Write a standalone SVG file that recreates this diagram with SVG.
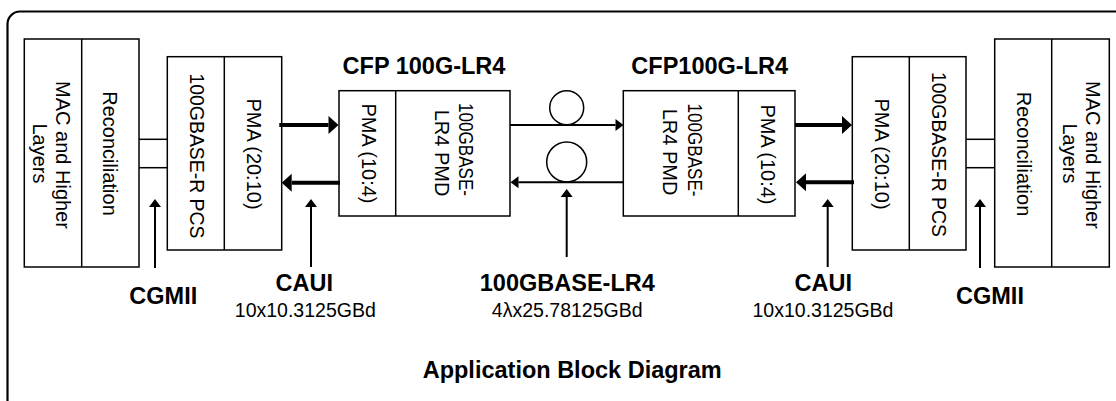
<svg xmlns="http://www.w3.org/2000/svg" width="1116" height="401" viewBox="0 0 1116 401">
<style>
.box{fill:#fff;stroke:#000;stroke-width:1.5}
.div{stroke:#000;stroke-width:1.5;fill:none}
.frame{fill:none;stroke:#000;stroke-width:2.2}
.rt{font-family:"Liberation Sans",Arial,sans-serif;font-size:20px;fill:#000;text-anchor:middle}
.lb{font-family:"Liberation Sans",Arial,sans-serif;font-size:23.5px;font-weight:bold;fill:#000;text-anchor:middle}
.sm{font-family:"Liberation Sans",Arial,sans-serif;font-size:19.5px;fill:#000;text-anchor:middle}
.thick{stroke:#000;stroke-width:4;fill:none;marker-end:url(#ahThick)}
.thin{stroke:#000;stroke-width:2;fill:none;marker-end:url(#ahThin)}
.up{stroke:#000;stroke-width:2;fill:none;marker-end:url(#ahUp)}
.link{stroke:#000;stroke-width:1.5;fill:none}
.fiber{fill:none;stroke:#000;stroke-width:1.5}
</style>
<defs>
<marker id="ahThick" markerUnits="userSpaceOnUse" markerWidth="10" markerHeight="18" refX="0" refY="9" orient="auto" overflow="visible"><path d="M0,0 L10,9 L0,18 Z" fill="#000"/></marker>
<marker id="ahThin" markerUnits="userSpaceOnUse" markerWidth="8" markerHeight="12" refX="0" refY="6" orient="auto" overflow="visible"><path d="M0,0 L8,6 L0,12 Z" fill="#000"/></marker>
<marker id="ahUp" markerUnits="userSpaceOnUse" markerWidth="8" markerHeight="12" refX="0" refY="6" orient="auto" overflow="visible"><path d="M0,0 L8,6 L0,12 Z" fill="#000"/></marker>
</defs>
<rect width="1116" height="401" fill="#fff"/>
<path class="frame" d="M7.5,402 V24 A12.5,12.5 0 0 1 20,11.5 H1117"/>

<g id="left-mac">
<rect class="box" x="24.3" y="39" width="114.7" height="228"/>
<line class="div" x1="81.7" y1="39" x2="81.7" y2="267"/>
<text class="rt" transform="translate(55.5,155) rotate(90)">MAC and Higher</text>
<text class="rt" transform="translate(33,153.5) rotate(90)">Layers</text>
<text class="rt" transform="translate(102.5,153.5) rotate(90)">Reconciliation</text>
</g>

<g id="left-pcs">
<rect class="box" x="167.3" y="56.7" width="114.4" height="193.3"/>
<line class="div" x1="224.3" y1="56.7" x2="224.3" y2="250"/>
<text class="rt" transform="translate(190,156) rotate(90)" textLength="165" lengthAdjust="spacingAndGlyphs">100GBASE-R PCS</text>
<text class="rt" transform="translate(246.5,154) rotate(90)">PMA (20:10)</text>
</g>

<g id="left-cfp">
<text class="lb" x="424" y="74">CFP 100G-LR4</text>
<rect class="box" x="339" y="90.7" width="171" height="125.3"/>
<line class="div" x1="395.7" y1="90.7" x2="395.7" y2="216"/>
<text class="rt" transform="translate(362,153.5) rotate(90)">PMA (10:4)</text>
<text class="rt" transform="translate(459,149.5) rotate(90)" textLength="93" lengthAdjust="spacingAndGlyphs">100GBASE-</text>
<text class="rt" transform="translate(435,153) rotate(90)">LR4 PMD</text>
</g>

<g id="fiber">
<circle class="fiber" cx="566.7" cy="107.8" r="17"/>
<circle class="fiber" cx="566.7" cy="162" r="20"/>
</g>

<g id="right-cfp">
<text class="lb" x="709.7" y="74">CFP100G-LR4</text>
<rect class="box" x="623.3" y="90.7" width="171.7" height="125.3"/>
<line class="div" x1="738.3" y1="90.7" x2="738.3" y2="216"/>
<text class="rt" transform="translate(687.5,150) rotate(90)" textLength="93" lengthAdjust="spacingAndGlyphs">100GBASE-</text>
<text class="rt" transform="translate(663,152) rotate(90)">LR4 PMD</text>
<text class="rt" transform="translate(760.5,154.5) rotate(90)">PMA (10:4)</text>
</g>

<g id="right-pcs">
<rect class="box" x="852.3" y="56.7" width="113.7" height="193.3"/>
<line class="div" x1="909.3" y1="56.7" x2="909.3" y2="250"/>
<text class="rt" transform="translate(874.5,154) rotate(90)">PMA (20:10)</text>
<text class="rt" transform="translate(932,154.5) rotate(90)" textLength="165" lengthAdjust="spacingAndGlyphs">100GBASE-R PCS</text>
</g>

<g id="right-mac">
<rect class="box" x="994.7" y="39" width="114.6" height="228"/>
<line class="div" x1="1051.7" y1="39" x2="1051.7" y2="267"/>
<text class="rt" transform="translate(1016.5,154) rotate(90)">Reconciliation</text>
<text class="rt" transform="translate(1085.5,155) rotate(90)">MAC and Higher</text>
<text class="rt" transform="translate(1063,153.5) rotate(90)">Layers</text>
</g>

<g id="connectors">
<line class="link" x1="139" y1="139.3" x2="167.3" y2="139.3"/>
<line class="link" x1="139" y1="167.7" x2="167.3" y2="167.7"/>
<line class="link" x1="966" y1="139.3" x2="994.7" y2="139.3"/>
<line class="link" x1="966" y1="167.7" x2="994.7" y2="167.7"/>
<line class="thick" x1="279.3" y1="125" x2="328.5" y2="125"/>
<line class="thick" x1="340" y1="182.7" x2="291.7" y2="182.7"/>
<line class="thin" x1="510" y1="125" x2="615.5" y2="125"/>
<line class="thin" x1="623.3" y1="182.3" x2="518.5" y2="182.3"/>
<line class="thick" x1="795" y1="125" x2="842" y2="125"/>
<line class="thick" x1="854" y1="182.3" x2="806" y2="182.3"/>
<line class="up" x1="155" y1="268" x2="155" y2="207"/>
<line class="up" x1="311" y1="267" x2="311" y2="207"/>
<line class="up" x1="566.7" y1="257" x2="566.7" y2="197"/>
<line class="up" x1="827.7" y1="267" x2="827.7" y2="207"/>
<line class="up" x1="980" y1="268" x2="980" y2="207"/>
</g>

<g id="labels">
<text class="lb" x="163.3" y="304.3">CGMII</text>
<text class="lb" x="304.3" y="291">CAUI</text>
<text class="sm" x="305.3" y="317">10x10.3125GBd</text>
<text class="lb" x="567.3" y="291">100GBASE-LR4</text>
<text class="sm" x="567.2" y="317">4λx25.78125GBd</text>
<text class="lb" x="823.3" y="291">CAUI</text>
<text class="sm" x="823" y="317">10x10.3125GBd</text>
<text class="lb" x="990" y="304.3">CGMII</text>
<text class="lb" x="572.2" y="377.7">Application Block Diagram</text>
</g>
</svg>
